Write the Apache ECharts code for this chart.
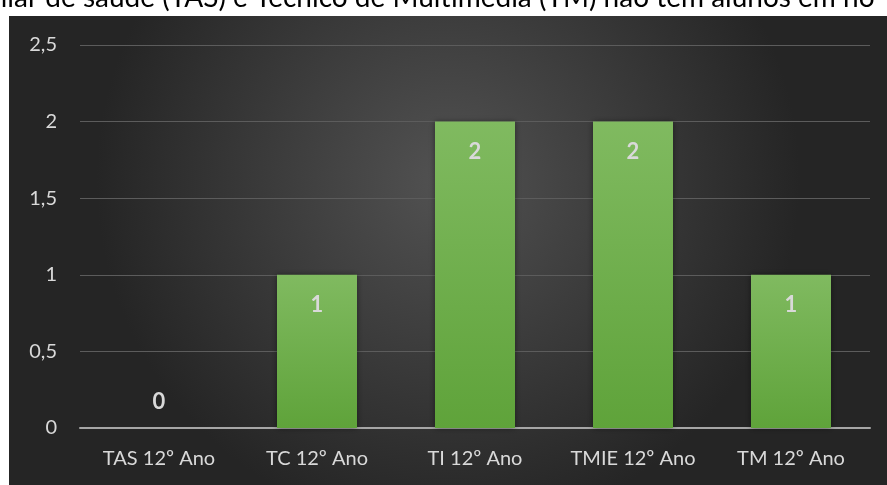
<!DOCTYPE html>
<html><head><meta charset="utf-8">
<script src="https://cdn.jsdelivr.net/npm/echarts@6/dist/echarts.min.js"></script>
<style>html,body{margin:0;padding:0;background:#fff;}#c{width:887px;height:485px;}</style>
</head><body><div id="c"></div>
<script>
const categories = ['TAS 12º Ano', 'TC 12º Ano', 'TI 12º Ano', 'TMIE 12º Ano', 'TM 12º Ano'];
const values = [0, 1, 2, 2, 1];
const yTicks = [0, 0.5, 1, 1.5, 2, 2.5];
const captionText = 'iliar de saúde (TAS) e Técnico de Multimédia (TM) não têm alunos em no';

const FONT = 'Lato, "Liberation Sans", sans-serif';
const chart = echarts.init(document.getElementById('c'), null, {renderer: 'canvas'});
chart.setOption({
  backgroundColor: '#ffffff',
  animation: false,
  graphic: [
    {type: 'rect', z: -10, silent: true, shape: {x: 9, y: 16, width: 878, height: 469},
     style: {fill: new echarts.graphic.RadialGradient(0.5, 0.35, 0.75, [
       {offset: 0, color: '#525252'}, {offset: 1, color: '#252525'}])}},
    {type: 'text', x: -6, y: 12, silent: true, z: -20,
     style: {text: captionText, font: '28px ' + FONT, fill: '#000', verticalAlign: 'bottom'}}
  ],
  grid: {left: 80, right: 17, top: 45, bottom: 57},
  xAxis: {
    type: 'category', data: categories,
    axisTick: {show: false},
    axisLine: {lineStyle: {color: '#a6a6a6', width: 2}},
    axisLabel: {color: '#d9d9d9', fontSize: 20, fontFamily: FONT, margin: 21, interval: 0}
  },
  yAxis: {
    type: 'value', min: 0, max: 2.5, interval: 0.5,
    axisLine: {show: false}, axisTick: {show: false},
    splitLine: {lineStyle: {color: '#5c5c5c', width: 1}},
    axisLabel: {color: '#d9d9d9', fontSize: 20, fontFamily: FONT, margin: 23,
      formatter: v => yTicks.includes(v) ? String(v).replace('.', ',') : ''}
  },
  series: [{
    type: 'bar', barWidth: 80,
    data: values.map(v => v === 0 ? {value: v, label: {position: 'top', distance: 15}} : v),
    itemStyle: {
      color: new echarts.graphic.LinearGradient(0, 0, 0, 1, [
        {offset: 0, color: '#80ba60'}, {offset: 1, color: '#5fa33a'}]),
      shadowBlur: 6, shadowColor: 'rgba(0,0,0,0.45)', shadowOffsetX: 0
    },
    label: {show: true, position: 'insideTop', distance: 19, color: '#d9d9d9',
      fontSize: 22, fontWeight: 'bold', fontFamily: FONT}
  }]
});
</script></body></html>
